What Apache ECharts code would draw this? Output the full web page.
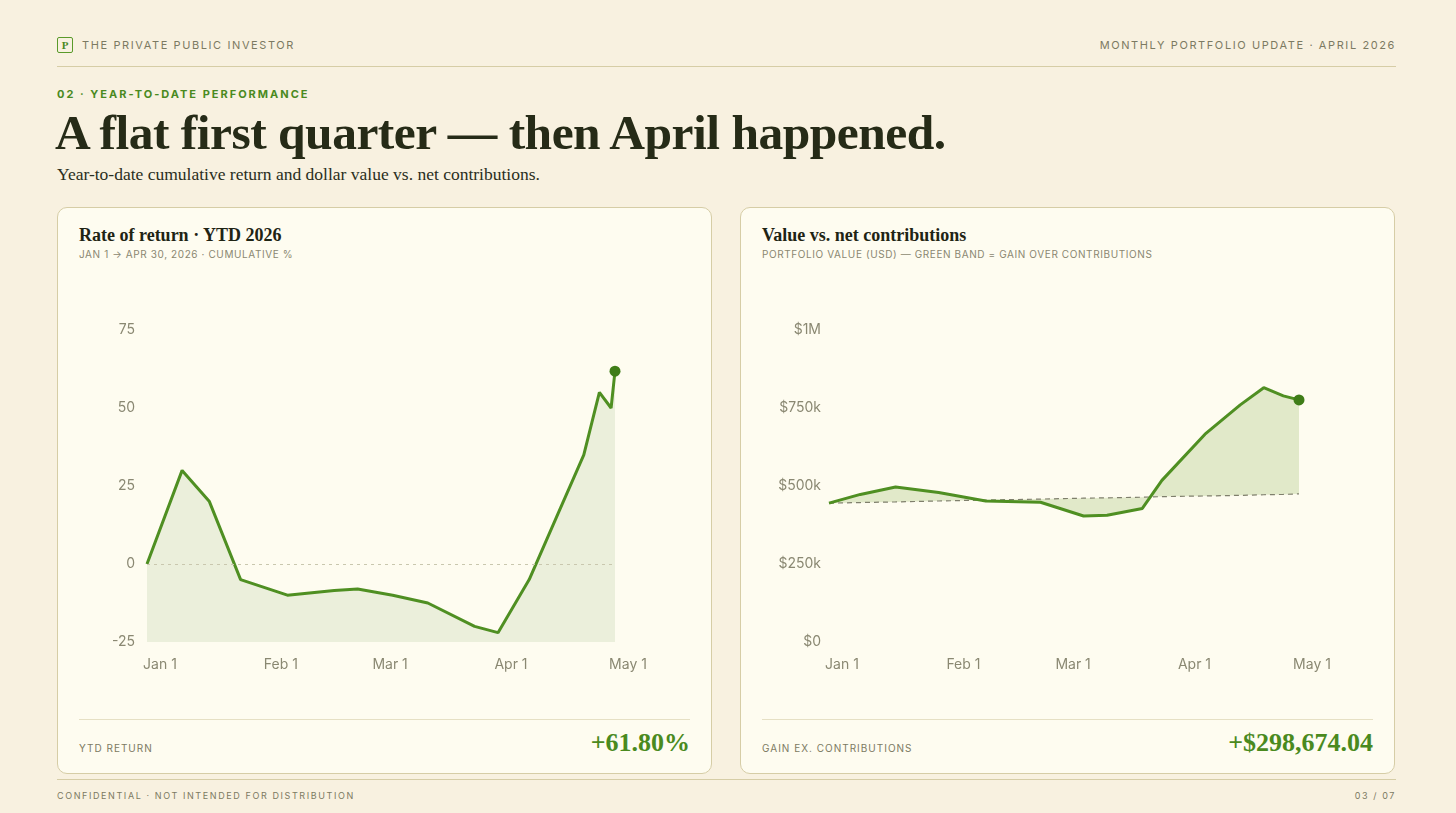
<!DOCTYPE html>
<html>
<head>
<meta charset="utf-8">
<script src="https://cdn.jsdelivr.net/npm/echarts@6/dist/echarts.min.js"></script>
<style>
  body { margin: 0; background: #f8f1e0; width: 1456px; height: 813px; position: relative; font-family: Inter, sans-serif; overflow: hidden; }
  .abs { position: absolute; }
  .caps { font-size: 11px; letter-spacing: 1.6px; color: #7c7a62; text-transform: uppercase; }
  .serif { font-family: "Liberation Serif", serif; }
  .card { position: absolute; top: 207px; width: 655px; height: 567px; background: #fefcf0; border: 1px solid #d6cda6; border-radius: 10px; box-sizing: border-box; }
  .card h3 { position: absolute; left: 21px; top: 17px; margin: 0; font-family: "Liberation Serif", serif; font-size: 18px; font-weight: bold; color: #1f2414; }
  .card .sub { position: absolute; left: 21px; top: 40px; font-size: 10px; letter-spacing: 0.6px; color: #8a8770; }
  .card .chart { position: absolute; left: 0; top: 80px; width: 655px; height: 400px; }
  .card .rule { position: absolute; left: 21px; right: 21px; top: 511px; border-top: 1px solid #e6e0c4; }
  .card .flab { position: absolute; left: 21px; top: 534px; font-size: 10px; letter-spacing: 1px; color: #7c7a62; }
  .card .fval { position: absolute; right: 21px; top: 520px; font-family: "Liberation Serif", serif; font-weight: bold; font-size: 26px; color: #4a8a1e; }
</style>
</head>
<body>
<div class="abs" style="left:57px;top:37px;width:14px;height:14px;border:1px solid #5a9a2a;border-radius:2px;font-family:'Liberation Serif',serif;font-weight:bold;font-size:11px;color:#4a8a1e;text-align:center;line-height:14px;">P</div>
<div class="abs caps" style="left:82px;top:38px;">The Private Public Investor</div>
<div class="abs caps" style="right:60px;top:38px;">Monthly Portfolio Update · April 2026</div>
<div class="abs" style="left:57px;right:60px;top:66px;border-top:1px solid #d6cda6;"></div>
<div class="abs" style="left:57px;top:87px;font-size:11px;font-weight:bold;letter-spacing:2px;color:#4a8a1e;">02 · YEAR-TO-DATE PERFORMANCE</div>
<div class="abs serif" style="left:55px;top:104px;font-size:49.5px;font-weight:bold;color:#262b17;letter-spacing:-0.5px;">A flat first quarter — then April happened.</div>
<div class="abs serif" style="left:57px;top:164px;font-size:17.5px;color:#2a2e20;">Year-to-date cumulative return and dollar value vs. net contributions.</div>

<div class="card" style="left:57px;">
  <h3>Rate of return · YTD 2026</h3>
  <div class="sub">JAN 1 → APR 30, 2026 · CUMULATIVE %</div>
  <div class="chart" id="c1"></div>
  <div class="rule"></div>
  <div class="flab">YTD RETURN</div>
  <div class="fval">+61.80%</div>
</div>
<div class="card" style="left:740px;">
  <h3>Value vs. net contributions</h3>
  <div class="sub">PORTFOLIO VALUE (USD) — GREEN BAND = GAIN OVER CONTRIBUTIONS</div>
  <div class="chart" id="c2"></div>
  <div class="rule"></div>
  <div class="flab">GAIN EX. CONTRIBUTIONS</div>
  <div class="fval">+$298,674.04</div>
</div>
<div class="abs" style="left:57px;right:60px;top:779px;border-top:1px solid #d6cda6;"></div>
<div class="abs caps" style="left:57px;top:790px;font-size:9px;">Confidential · Not intended for distribution</div>
<div class="abs caps" style="right:60px;top:790px;font-size:9px;">03 / 07</div>

<script>
// days since Jan 1 2026
const monthTicks = [0, 31, 59, 90, 120]
const monthLabels = ['Jan 1', 'Feb 1', 'Mar 1', 'Apr 1', 'May 1']

const returnDays = [0, 9, 16, 24, 36, 48, 54, 63, 72, 84, 90, 98, 105, 112, 116, 119, 120]
const returnPct = [0, 30, 20, -5, -10, -8.5, -8, -10, -12.5, -20, -22, -5, 15, 35, 55, 50, 61.8]

const valueDays = [0, 8, 17, 28, 40, 54, 65, 71, 80, 85, 96, 105, 111, 116, 120]
const portfolioK = [445, 473, 497, 479, 452, 448, 404, 406, 428, 518, 666, 760, 815, 789, 776]
const contribK = [445, 447, 449, 452, 455, 458, 461, 462, 464, 466, 468, 470, 472, 473, 475]

const green = '#4f8f22'
const labelStyle = { color: '#8a8872', fontSize: 14, fontFamily: 'Inter' }

function xAxis () {
  return {
    type: 'value', min: 0, max: 120,
    axisLine: { show: false }, axisTick: { show: false }, splitLine: { show: false },
    axisLabel: Object.assign({}, labelStyle, {
      margin: 16, customValues: monthTicks, padding: [0, 0, 0, 26],
      formatter: (v) => monthLabels[monthTicks.indexOf(v)] || ''
    })
  }
}

const c1 = echarts.init(document.getElementById('c1'))
c1.setOption({
  animation: false,
  grid: { left: 89, right: 98, top: 42, bottom: 46 },
  xAxis: xAxis(),
  yAxis: {
    type: 'value', min: -25, max: 75, interval: 25,
    axisLine: { show: false }, axisTick: { show: false }, splitLine: { show: false },
    axisLabel: Object.assign({}, labelStyle, { margin: 12 })
  },
  series: [{
    type: 'line',
    data: returnDays.map((d, i) => [d, returnPct[i]]),
    showSymbol: false,
    lineStyle: { color: green, width: 3 },
    areaStyle: { color: '#ebefdb', opacity: 1, origin: 'start' },
    markLine: {
      silent: true, symbol: 'none', label: { show: false },
      lineStyle: { color: '#c9c7ae', type: [3, 4], width: 1 },
      data: [{ yAxis: 0 }]
    },
    markPoint: {
      symbol: 'circle', symbolSize: 11, itemStyle: { color: '#3f7d18' }, label: { show: false },
      data: [{ coord: [returnDays[returnDays.length - 1], returnPct[returnPct.length - 1]] }]
    }
  }]
})

const c2 = echarts.init(document.getElementById('c2'))
c2.setOption({
  animation: false,
  grid: { left: 88, right: 97, top: 42, bottom: 46 },
  xAxis: xAxis(),
  yAxis: {
    type: 'value', min: 0, max: 1000, interval: 250,
    axisLine: { show: false }, axisTick: { show: false }, splitLine: { show: false },
    axisLabel: Object.assign({}, labelStyle, {
      margin: 8,
      formatter: (v) => v === 0 ? '$0' : v === 1000 ? '$1M' : '$' + v + 'k'
    })
  },
  series: [
    {
      // band between portfolio value and contributions
      type: 'custom', silent: true,
      data: [[0, 0]],
      renderItem: (params, api) => {
        const top = valueDays.map((d, i) => api.coord([d, portfolioK[i]]))
        const bottom = valueDays.map((d, i) => api.coord([d, contribK[i]])).reverse()
        return {
          type: 'polygon',
          shape: { points: top.concat(bottom) },
          style: { fill: '#e1e9c9' }
        }
      }
    },
    {
      type: 'line', showSymbol: false,
      data: valueDays.map((d, i) => [d, contribK[i]]),
      lineStyle: { color: '#7f7f6c', width: 1.2, type: [5, 4] }
    },
    {
      type: 'line', showSymbol: false,
      data: valueDays.map((d, i) => [d, portfolioK[i]]),
      lineStyle: { color: green, width: 3 },
      markPoint: {
        symbol: 'circle', symbolSize: 11, itemStyle: { color: '#3f7d18' }, label: { show: false },
        data: [{ coord: [valueDays[valueDays.length - 1], portfolioK[portfolioK.length - 1]] }]
      }
    }
  ]
})
</script>
</body>
</html>
